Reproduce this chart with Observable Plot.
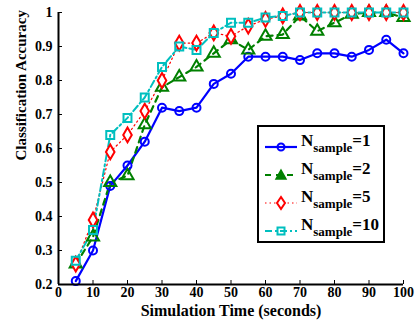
<!DOCTYPE html>
<html><head><meta charset="utf-8">
<script src="https://cdn.jsdelivr.net/npm/d3@7"></script>
<script src="https://cdn.jsdelivr.net/npm/@observablehq/plot@0.6"></script>
<style>
body{margin:0;background:#fff;}
#wrap{position:relative;width:417px;height:324px;font-family:"Liberation Serif","Times New Roman",serif;font-weight:bold;}
#legend{position:absolute;left:257px;top:125px;width:128px;height:118px;border:2px solid #000;background:#fff;box-sizing:border-box;}
.row{position:absolute;left:0;height:28px;}
.row svg{position:absolute;left:6px;top:8px;}
.lab{position:absolute;left:42px;top:0px;font-size:17px;white-space:nowrap;line-height:20px;}
.lab sub{font-size:13px;vertical-align:-6px;line-height:0;}
</style></head>
<body><div id="wrap"><div id="chart"></div><div id="legend"></div></div>
<script>
const times = [5,10,15,20,25,30,35,40,45,50,55,60,65,70,75,80,85,90,95,100];
const acc1  = [0.21,0.30,0.49,0.55,0.62,0.72,0.71,0.72,0.79,0.82,0.87,0.87,0.87,0.86,0.88,0.88,0.87,0.89,0.92,0.88];
const acc2  = [0.26,0.34,0.50,0.52,0.67,0.78,0.81,0.84,0.88,0.92,0.89,0.93,0.935,0.99,0.945,0.97,0.995,1.0,1.0,0.985];
const acc5  = [0.26,0.39,0.59,0.64,0.71,0.80,0.91,0.91,0.94,0.93,0.96,0.98,0.99,1.0,1.0,1.0,1.0,1.0,1.0,1.0];
const acc10 = [0.27,0.36,0.64,0.69,0.75,0.84,0.90,0.89,0.94,0.97,0.97,0.985,0.99,1.0,1.0,1.0,1.0,1.0,1.0,1.0];
const seriesNames = ["1","2","5","10"];
const xTicks = [0,10,20,30,40,50,60,70,80,90,100];
const yTicks = [0.2,0.3,0.4,0.5,0.6,0.7,0.8,0.9,1];

const styles = {
  "1":  {color:"#0000ff", symbol:"circle",   dash:null,    sw:2.2},
  "2":  {color:"#008000", symbol:"triangle", dash:"6,5",   sw:2.2},
  "5":  {color:"#ff0000", symbol:"diamond",  dash:"1.5,3", sw:1.2},
  "10": {color:"#00bfbf", symbol:"square",   dash:"7,3,2,3", sw:2}
};
const allSeries = [acc1,acc2,acc5,acc10];
const data = [];
seriesNames.forEach((n,i)=>times.forEach((t,j)=>data.push({t, v:allSeries[i][j], s:n})));

const marks = [];
seriesNames.forEach(n=>{
  const st = styles[n];
  const d = data.filter(e=>e.s===n);
  marks.push(Plot.line(d,{x:"t",y:"v",stroke:st.color,strokeWidth:st.sw,strokeDasharray:st.dash}));
});
seriesNames.forEach(n=>{
  const st = styles[n];
  const d = data.filter(e=>e.s===n);
  marks.push(Plot.dot(d,{x:"t",y:"v",stroke:st.color,fill:"white",fillOpacity:n==="5"?1:0.0,strokeWidth:2,symbol:st.symbol,r:st.symbol==="circle"?4:4.5}));
});

const chart = Plot.plot({
  width:417, height:324,
  marginLeft:58, marginRight:14, marginTop:12, marginBottom:40,
  style:{fontFamily:"'Liberation Serif','Times New Roman',serif",fontWeight:"bold",fontSize:"14px",background:"white",color:"black"},
  x:{domain:[0,100]},
  y:{domain:[0.2,1]},
  marks:[
    ...marks,
    Plot.ruleX([0],{stroke:"black",strokeWidth:2}),
    Plot.ruleY([0.2],{stroke:"black",strokeWidth:2}),
    Plot.axisX(xTicks,{tickSize:-4,tickPadding:7,label:null,fontSize:14,fontWeight:"bold"}),
    Plot.axisY(yTicks,{tickSize:-4,tickPadding:10,label:null,fontSize:14,fontWeight:"bold",tickFormat:d=>String(d)}),
    Plot.text(["Simulation Time (seconds)"],{frameAnchor:"bottom",dy:31,fontSize:16,fontWeight:"bold"}),
    Plot.text(["Classification Accuracy"],{frameAnchor:"left",dx:-37,dy:12,rotate:-90,fontSize:15,fontWeight:"bold"})
  ]
});
document.getElementById("chart").appendChild(chart);

const legend = document.getElementById("legend");
seriesNames.forEach((n,i)=>{
  const st = styles[n];
  const row = document.createElement("div");
  row.className="row"; row.style.top=(4+i*28)+"px";
  let sym="";
  const c=st.color;
  if(st.symbol==="circle") sym=`<circle cx="16" cy="8" r="3.5" fill="none" stroke="${c}" stroke-width="2"/>`;
  if(st.symbol==="triangle") sym=`<path d="M16,3 L21,12 L11,12 Z" fill="${c}" stroke="${c}" stroke-width="1.5"/>`;
  if(st.symbol==="diamond") sym=`<path d="M16,2 L20,8 L16,14 L12,8 Z" fill="white" stroke="${c}" stroke-width="2"/>`;
  if(st.symbol==="square") sym=`<rect x="12.5" y="4.5" width="7" height="7" fill="none" stroke="${c}" stroke-width="2"/>`;
  row.innerHTML=`<svg width="34" height="16"><line x1="0" y1="8" x2="32" y2="8" stroke="${c}" stroke-width="${st.sw}" ${st.dash?`stroke-dasharray="${st.dash}"`:""}/>${sym}</svg><span class="lab">N<sub>sample</sub>=${n}</span>`;
  legend.appendChild(row);
});
</script></body></html>
